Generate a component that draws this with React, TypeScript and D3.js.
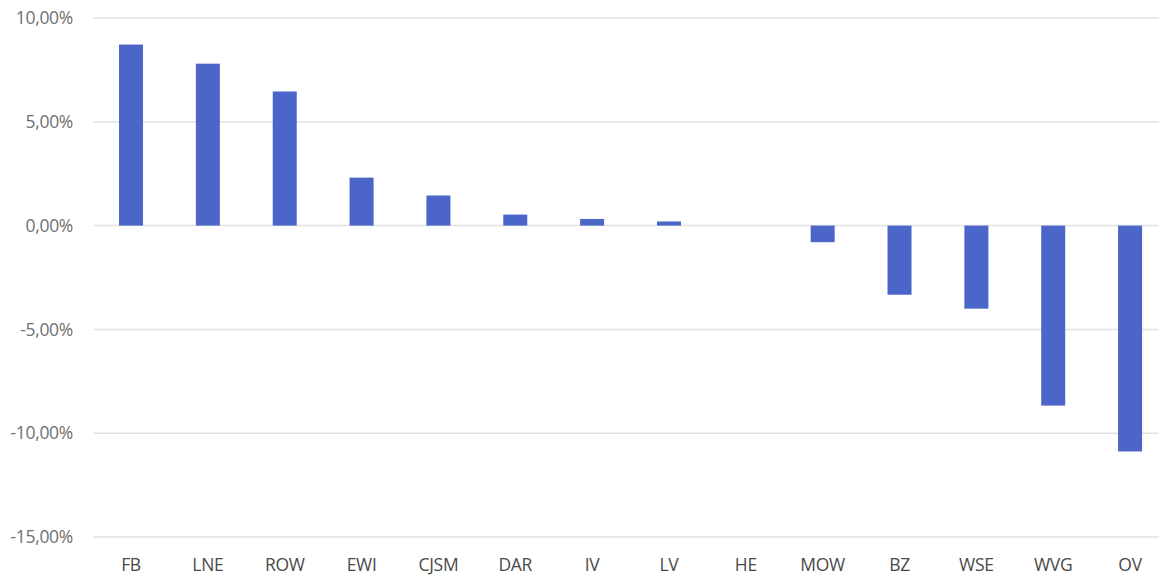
import React from "react";
import * as d3 from "d3";

const categories = ["FB", "LNE", "ROW", "EWI", "CJSM", "DAR", "IV", "LV", "HE", "MOW", "BZ", "WSE", "WVG", "OV"];
const values = [8.72, 7.8, 6.46, 2.31, 1.45, 0.53, 0.32, 0.2, 0, -0.8, -3.33, -4.0, -8.67, -10.88];
const yTicks = [10, 5, 0, -5, -10, -15];

const W = 1159;
const H = 578;

export default function App() {
  const x = d3.scaleBand<string>().domain(categories).range([92.6, 1168.5]).paddingInner(0.69).paddingOuter(0.345);
  const y = d3.scaleLinear().domain([-15, 10]).range([537, 18]);
  const fmt = (v: number) => v.toFixed(2).replace(".", ",") + "%";
  return (
    <svg width={W} height={H} style={{ position: "absolute", left: 0, top: 0, background: "#fff" }}>
      {yTicks.map((t) => (
        <g key={t}>
          <line x1={93} x2={W} y1={y(t)} y2={y(t)} stroke="#e2e2e2" strokeWidth={1.5} />
          <text x={73} y={y(t)} dy="0.35em" textAnchor="end" fontFamily="'Open Sans', sans-serif" fontSize={17.5} fill="#707070" letterSpacing={-0.3}>
            {fmt(t)}
          </text>
        </g>
      ))}
      {categories.map((c, i) => {
        const v = values[i];
        const cx = (x(c) as number) + x.bandwidth() / 2;
        const bw = 24;
        return (
          <g key={c}>
            {v !== 0 && (
              <rect x={cx - bw / 2} width={bw} y={Math.min(y(v), y(0))} height={Math.abs(y(v) - y(0))} fill="#4B65C8" />
            )}
            <text x={cx} y={565} dy="0.35em" textAnchor="middle" fontFamily="'Open Sans', sans-serif" fontSize={17.5} fill="#4a4a4a" letterSpacing={-0.3}>
              {c}
            </text>
          </g>
        );
      })}
    </svg>
  );
}
